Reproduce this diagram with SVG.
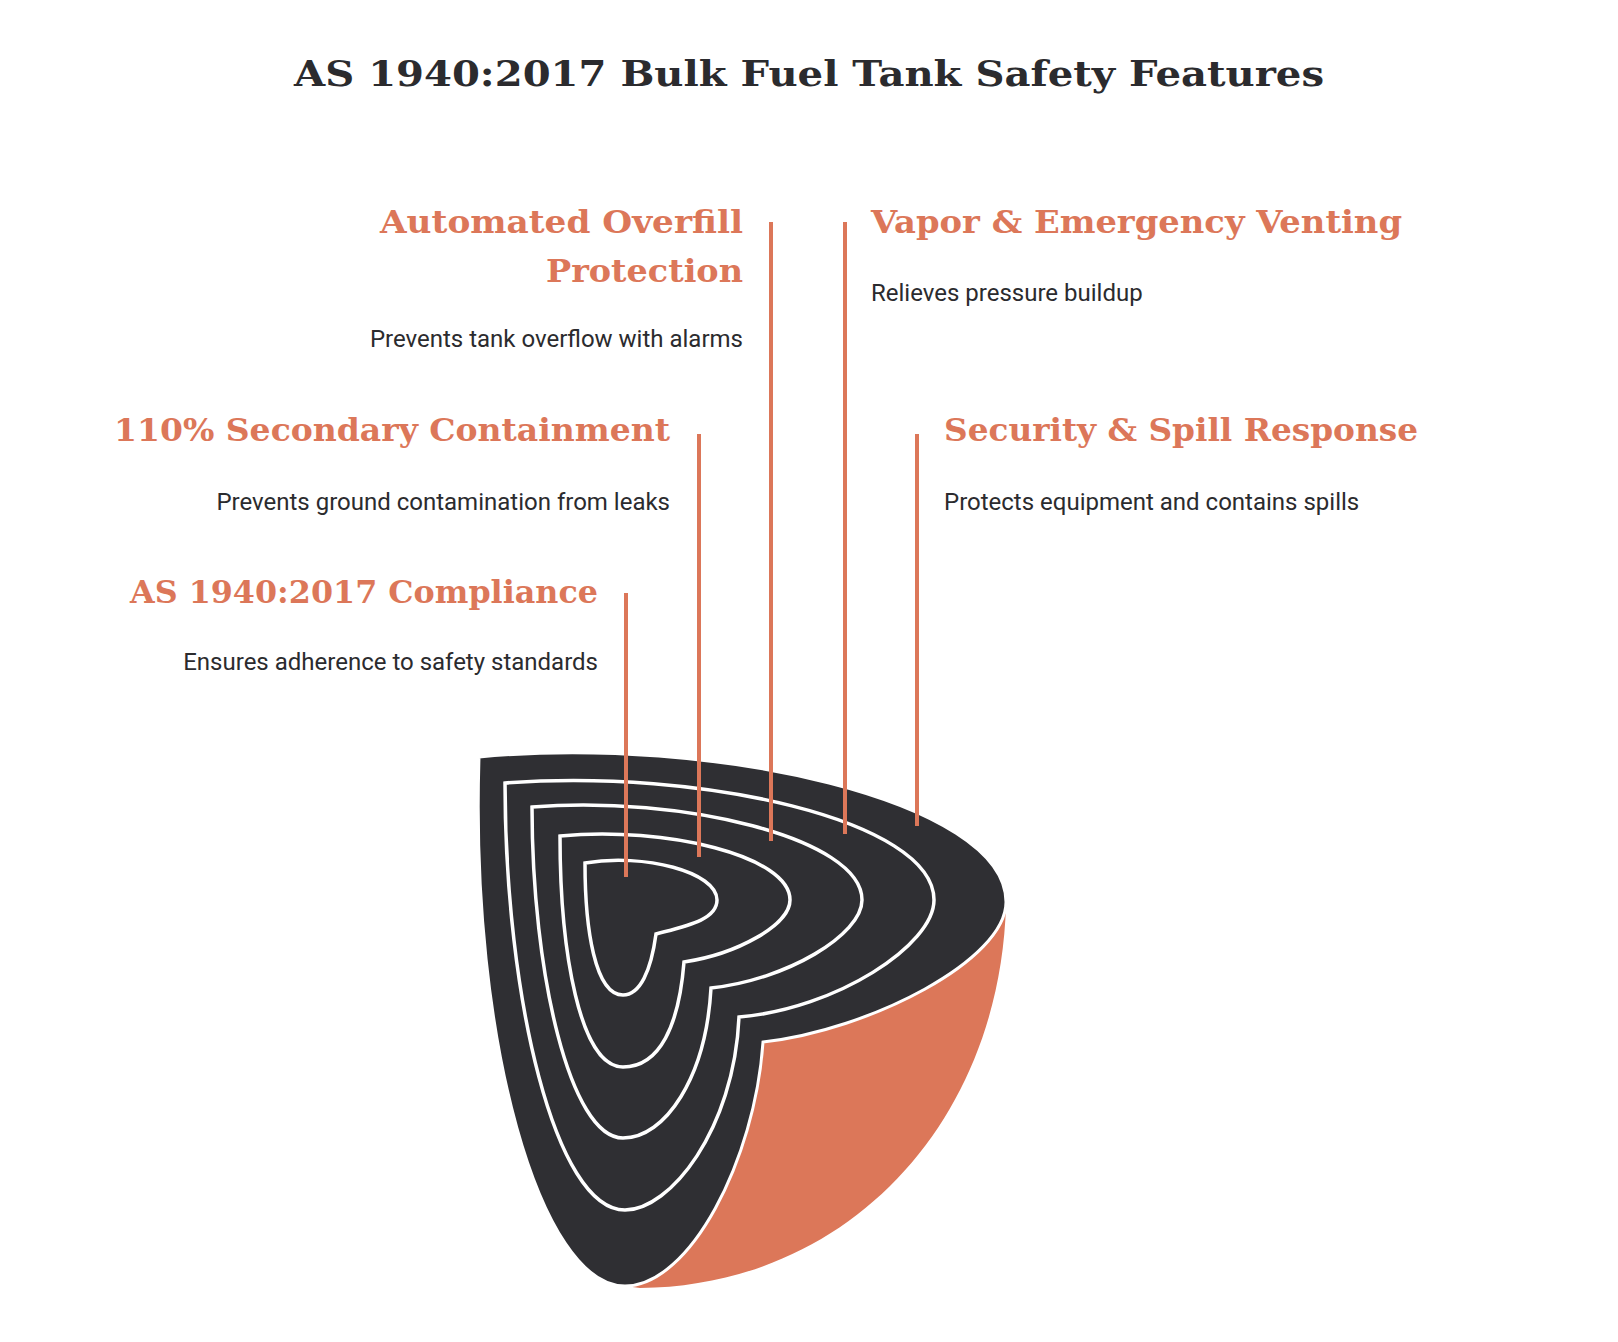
<svg xmlns="http://www.w3.org/2000/svg" width="1618" height="1342" viewBox="0 0 1618 1342">
<style>
.t{font-family:"DejaVu Serif","Liberation Serif",serif;font-weight:bold;fill:#dc7759;font-size:31px}
.d{font-family:Roboto,"Liberation Sans",sans-serif;fill:#2b2b2e;font-size:24px}
.ring{fill:none;stroke:#fff;stroke-width:3.5}
.ln{stroke:#dc7759;stroke-width:4}
</style>
<rect width="1618" height="1342" fill="#fff"/>
<text x="809" y="86" text-anchor="middle" font-family="'DejaVu Serif','Liberation Serif',serif" font-weight="bold" font-size="36" fill="#2b2b2e" textLength="1030" lengthAdjust="spacingAndGlyphs">AS 1940:2017 Bulk Fuel Tank Safety Features</text>
<g id="tank">
<path d="M1006,905 C1000,1120 850,1286 640,1288 L625,1286 C690,1286 755,1160 763,1042 C870,1030 1006,960 1006,905 Z" fill="#dc7759"/>
<path d="M479,757 C710,735 1006,800 1006,902 C1006,960 870,1030 763,1042 C755,1160 690,1286 625,1286 C540,1286 470,1040 479,757 Z" fill="#2f2f33" stroke="#fff" stroke-width="3"/>
<path class="ring" d="M505,783 C698,768 934,820 934,900 C934,945 836,1009 739,1017 C734,1130 670,1210 625,1210 C555,1210 505,996 505,783 Z"/>
<path class="ring" d="M532,807 C680,795 862,838 862,900 C862,935 786,980 711,988 C706,1078 665,1138 623,1138 C570,1138 532,972 532,807 Z"/>
<path class="ring" d="M560,836 C666,826 790,856 790,900 C790,925 737,954 684,962 C679,1025 660,1067 623,1067 C580,1067 560,952 560,836 Z"/>
<path class="ring" d="M585,863 C644,853 717,872 717,900 C717,920 686,926 656,934 C651,971 640,995 623,995 C595,995 585,929 585,863 Z"/>
</g>
<g id="connectors">
<line class="ln" x1="626" y1="593" x2="626" y2="877"/>
<line class="ln" x1="699" y1="434" x2="699" y2="857"/>
<line class="ln" x1="771" y1="222" x2="771" y2="841"/>
<line class="ln" x1="845" y1="222" x2="845" y2="834"/>
<line class="ln" x1="917" y1="434" x2="917" y2="826"/>
</g>
<g id="n1"><text class="t" x="598" y="603" text-anchor="end" textLength="468" lengthAdjust="spacingAndGlyphs">AS 1940:2017 Compliance</text>
<text class="d" x="598" y="670" text-anchor="end">Ensures adherence to safety standards</text></g>
<g id="n2"><text class="t" x="670" y="441" text-anchor="end" textLength="556" lengthAdjust="spacingAndGlyphs">110% Secondary Containment</text>
<text class="d" x="670" y="510" text-anchor="end">Prevents ground contamination from leaks</text></g>
<g id="n3"><text class="t" x="743" y="233" text-anchor="end" textLength="363" lengthAdjust="spacingAndGlyphs">Automated Overfill</text>
<text class="t" x="743" y="282" text-anchor="end" textLength="197" lengthAdjust="spacingAndGlyphs">Protection</text>
<text class="d" x="743" y="347" text-anchor="end">Prevents tank overflow with alarms</text></g>
<g id="n4"><text class="t" x="871" y="233" textLength="531" lengthAdjust="spacingAndGlyphs">Vapor &amp; Emergency Venting</text>
<text class="d" x="871" y="301">Relieves pressure buildup</text></g>
<g id="n5"><text class="t" x="944" y="441" textLength="474" lengthAdjust="spacingAndGlyphs">Security &amp; Spill Response</text>
<text class="d" x="944" y="510">Protects equipment and contains spills</text></g>
</svg>
